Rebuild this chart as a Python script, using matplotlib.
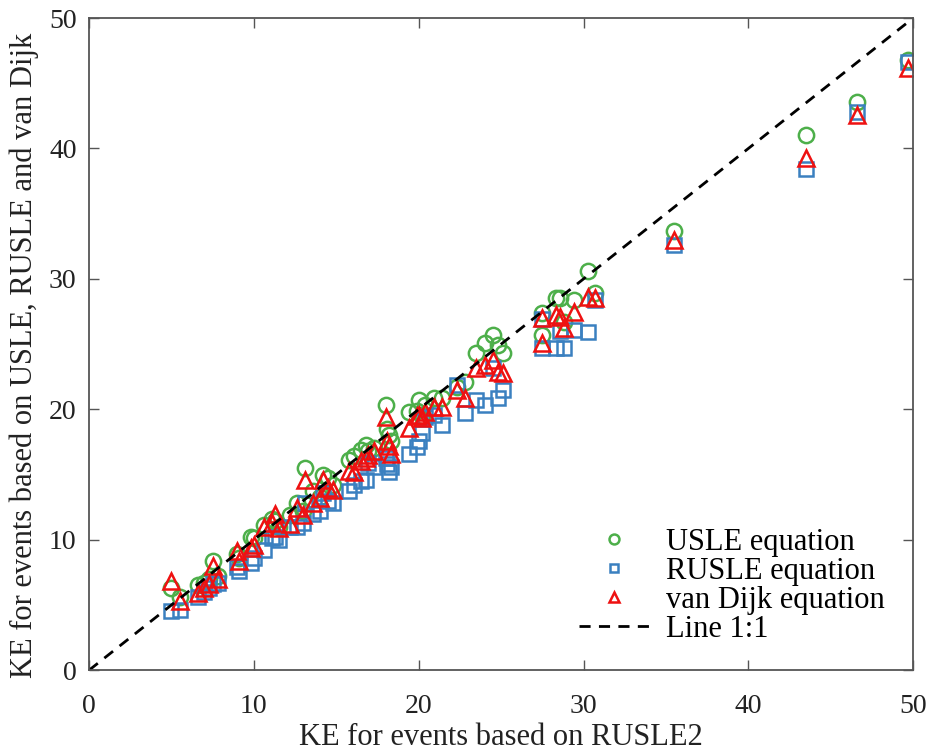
import matplotlib
matplotlib.use("Agg")
import matplotlib.pyplot as plt

plt.rcParams['font.family'] = ['Liberation Serif', 'DejaVu Serif']

# KE from RUSLE2 (x) and the three equations (y), one entry per event
rusle2 = [5.0, 5.5, 6.6, 7.0, 7.3, 7.5, 7.8, 9.0, 9.1, 9.8,
          10.0, 10.6, 11.1, 11.3, 11.5, 12.2, 12.6, 13.0, 13.1, 13.6,
          14.0, 14.2, 14.5, 14.8, 15.8, 16.1, 16.5, 16.8, 16.9, 17.3,
          18.0, 18.1, 18.2, 18.3, 19.4, 19.9, 20.0, 20.2, 20.4, 20.9,
          21.4, 22.3, 22.8, 23.5, 24.0, 24.5, 24.8, 25.1, 27.5, 27.5,
          28.3, 28.6, 28.8, 29.4, 30.3, 30.7, 35.5, 43.5, 46.6, 49.7]
usle = [6.3, 5.6, 6.5, 6.7, 7.0, 8.4, 7.2, 8.9, 8.6, 10.2,
        10.1, 11.1, 11.6, 11.4, 11.0, 11.9, 12.8, 12.2, 15.5, 13.7,
        13.3, 15.0, 14.7, 14.2, 16.1, 16.4, 16.9, 17.3, 16.8, 17.0,
        20.3, 18.5, 18.0, 17.6, 19.8, 19.9, 20.7, 19.5, 20.3, 20.9,
        20.9, 21.7, 22.1, 24.3, 25.1, 25.7, 24.9, 24.3, 27.4, 25.7,
        28.5, 28.5, 26.7, 28.4, 30.6, 28.9, 33.7, 41.0, 43.6, 46.8]
rusle = [4.5, 4.6, 5.6, 6.0, 6.3, 6.6, 6.7, 7.9, 7.6, 8.2,
         8.6, 9.2, 10.1, 10.2, 10.0, 11.0, 11.0, 11.3, 12.8, 12.0,
         12.2, 13.6, 13.0, 12.8, 13.7, 14.2, 14.5, 14.6, 15.9, 15.6,
         16.3, 15.8, 15.2, 15.6, 16.6, 17.1, 17.6, 18.2, 19.4, 19.6,
         18.8, 21.9, 19.7, 20.7, 20.3, 23.2, 20.9, 21.5, 26.9, 24.7,
         24.7, 26.0, 24.7, 26.1, 25.9, 28.4, 32.6, 38.4, 42.8, 46.6]
vandijk = [6.8, 5.3, 5.9, 6.3, 6.6, 8.0, 7.0, 9.1, 8.4, 9.4,
           9.6, 11.0, 11.3, 12.0, 10.9, 11.2, 12.4, 11.9, 14.6, 12.8,
           13.2, 14.6, 14.0, 13.8, 15.3, 15.2, 16.0, 16.3, 16.5, 16.8,
           19.4, 17.6, 17.2, 16.6, 18.6, 19.5, 19.6, 19.3, 19.8, 20.2,
           20.2, 21.5, 20.9, 23.2, 23.4, 23.8, 22.9, 22.8, 27.0, 25.1,
           27.2, 27.1, 26.2, 27.5, 28.6, 28.5, 33.0, 39.3, 42.6, 46.2]
one_to_one = [0, 50]

fig = plt.figure(figsize=(9.28, 7.53), dpi=100)
ax = fig.add_axes([0.096, 0.110, 0.888, 0.866])

ax.plot(rusle2, usle, 'o', ls='none', mfc='none', mec='#4daf4a', ms=11, mew=1.8,
        label='USLE equation')
ax.plot(rusle2, rusle, 's', ls='none', mfc='none', mec='#3a80c0', ms=9.5, mew=1.8,
        label='RUSLE equation')
ax.plot(rusle2, vandijk, '^', ls='none', mfc='none', mec='#ee1111', ms=11, mew=1.8,
        label='van Dijk equation')
ax.plot(one_to_one, one_to_one, '--', color='black', lw=2, dashes=(4, 3),
        label='Line 1:1')

ax.set_xlim(0, 50)
ax.set_ylim(0, 50)
ax.set_xticks([0, 10, 20, 30, 40, 50])
ax.set_yticks([0, 10, 20, 30, 40, 50])
ax.tick_params(direction='in', top=True, right=True, length=7, width=1,
               color='#555555', labelsize=20, labelcolor='#222222')
ax.tick_params(axis='x', pad=17)
ax.tick_params(axis='y', pad=9)
for s in ax.spines.values():
    s.set_color('#555555')
    s.set_linewidth(1.3)

ax.set_xlabel('KE for events based on RUSLE2', fontsize=22, color='#222222')
ax.set_ylabel('KE for events based on USLE, RUSLE and van Dijk', fontsize=22,
              color='#222222')
ax.xaxis.set_label_coords(0.5, -0.104, transform=ax.transAxes)
ax.xaxis.label.set_va('center')
ax.yaxis.set_label_coords(-0.079, 0.483, transform=ax.transAxes)
ax.yaxis.label.set_va('center')

leg = ax.legend(loc='lower right', bbox_to_anchor=(0.988, 0.012), frameon=False,
                fontsize=22, markerscale=0.65, handlelength=2.3,
                handletextpad=0.55, labelspacing=0.0, borderaxespad=0.3,
                borderpad=0.3)

fig.savefig('out.png', dpi=100)
